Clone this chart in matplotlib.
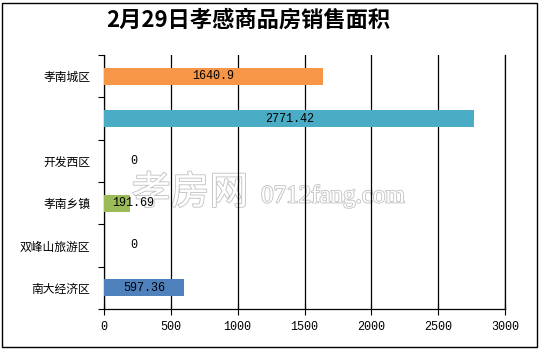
import matplotlib
matplotlib.use("Agg")
import matplotlib.pyplot as plt
import matplotlib.patheffects as pe
from matplotlib.patches import Rectangle
import numpy as np

plt.rcParams['font.family'] = ['Noto Sans CJK SC', 'DejaVu Sans']

title = "2月29日孝感商品房销售面积"
categories = ["孝南城区", "", "开发西区", "孝南乡镇", "双峰山旅游区", "南大经济区"]
values = [1640.9, 2771.42, 0, 191.69, 0, 597.36]
labels = ["1640.9", "2771.42", "0", "191.69", "0", "597.36"]
colors = ["#F79646", "#4BACC6", "#9BBB59", "#9BBB59", "#9BBB59", "#4F81BD"]
xticks = [0, 500, 1000, 1500, 2000, 2500, 3000]

fig = plt.figure(figsize=(5.4, 3.49), dpi=100)
fig.patches.append(Rectangle((2/540, 2/349), 535/540, 344/349, transform=fig.transFigure,
                             fill=False, edgecolor='black', linewidth=1.0))
ax = fig.add_axes([104/540, 1-309/349, 401/540, 254/349])

n = len(categories)
ypos = np.arange(n)
ax.barh(ypos, values, height=0.4, color=colors, zorder=3)
ax.set_ylim(n - 0.5, -0.5)
ax.set_xlim(0, 3000)

mono = ['Liberation Mono', 'DejaVu Sans Mono']
for y, v, lab in zip(ypos, values, labels):
    xl = max(v / 2, 220)
    ax.text(xl, y, lab, ha='center', va='center', fontsize=8.5, family=mono, zorder=5)

ax.set_xticks(xticks)
ax.set_xticklabels([str(t) for t in xticks], family=mono, fontsize=8.5)
ax.tick_params(axis='x', direction='inout', length=8, width=0.8, pad=5)
ax.set_yticks(ypos)
ax.set_yticklabels(categories, fontsize=8.5)
ax.tick_params(axis='y', which='major', length=0, pad=10)
ax.set_yticks(np.arange(-0.5, n, 1.0), minor=True)
ax.tick_params(axis='y', which='minor', direction='out', length=4, width=0.8)

ax.grid(axis='x', color='black', linewidth=0.9, zorder=1)
ax.axvline(3000, color='black', linewidth=0.9, clip_on=False, zorder=1)
ax.set_axisbelow(True)
for s in ['top', 'right']:
    ax.spines[s].set_visible(False)
for s in ['left', 'bottom']:
    ax.spines[s].set_linewidth(0.9)

fig.text(248/540, 1-20/349, title, ha='center', va='center', fontsize=16, fontweight='bold')

# watermark (inside axes, below grid lines and labels)
wm = [pe.withStroke(linewidth=1.3, foreground='#c4c4c4')]
ax.text(190/540, 1-193/349, "孝房网", ha='center', va='center', fontsize=28,
        transform=fig.transFigure, color='white', path_effects=wm, zorder=0.5, clip_on=False)
ax.text(333/540, 1-196/349, "0712fang.com", ha='center', va='center', fontsize=18,
        transform=fig.transFigure, family=['Liberation Serif', 'DejaVu Serif'],
        color='white', path_effects=wm, zorder=0.5, clip_on=False)

fig.savefig("out.png", dpi=100)
